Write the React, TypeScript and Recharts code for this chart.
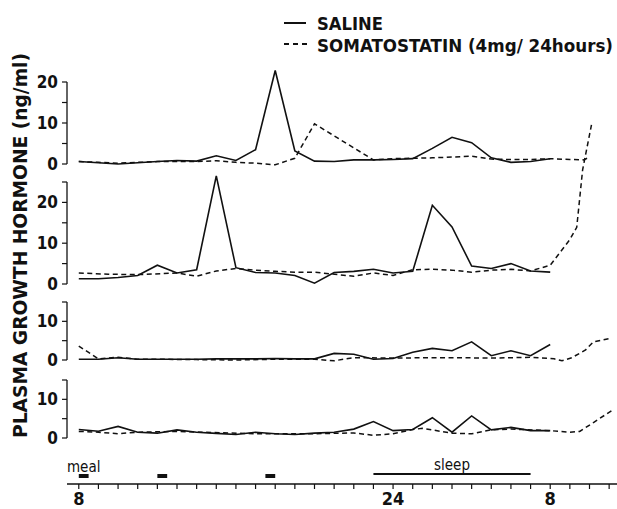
import { LineChart, Line, XAxis, YAxis, ReferenceLine } from "recharts";

// clock hours since midnight of day 1 (32 = 8 am next day)
const salineHours = [8, 9, 10, 11, 12, 13, 14, 15, 16, 17, 18, 19, 20, 21, 22, 23, 24, 25, 26, 27, 28, 29, 30, 31, 32];

// panel 1
const p1Saline = [0.6, 0.3, 0.0, 0.3, 0.6, 0.85, 0.7, 2.0, 0.85, 3.5, 22.8, 3.2, 0.7, 0.6, 1.0, 1.0, 1.1, 1.3, 3.8, 6.5, 5.2, 1.5, 0.4, 0.6, 1.3];
const p1SomaHours = [8, 9, 10, 11, 12, 13, 14, 15, 16, 17, 18, 19, 20, 23, 24, 25, 26, 27, 28, 29, 30, 31, 32, 33, 33.7, 34];
const p1Soma = [0.6, 0.4, 0.2, 0.4, 0.6, 0.6, 0.6, 0.8, 0.4, 0.2, -0.2, 1.4, 9.8, 1.0, 1.3, 1.4, 1.5, 1.7, 1.9, 1.2, 1.1, 1.1, 1.3, 1.1, 1.0, 1.7];

// panel 2
const p2Saline = [1.3, 1.3, 1.6, 2.1, 4.6, 2.7, 3.5, 26.5, 4.0, 2.8, 2.7, 2.1, 0.2, 2.8, 3.1, 3.6, 2.7, 3.1, 19.3, 14.0, 4.4, 3.8, 5.0, 3.2, 2.9];
const p2SomaHours = [8, 9.5, 11, 13, 14, 15, 16, 17, 18, 19, 20, 22, 23, 24, 25, 26, 27, 28, 29, 30, 31, 32, 33, 33.35, 33.65, 34.1];
const p2Soma = [2.7, 2.4, 2.3, 2.7, 1.9, 3.2, 3.8, 3.4, 3.1, 2.9, 2.9, 1.9, 2.7, 2.1, 3.5, 3.6, 3.4, 2.9, 3.4, 3.6, 3.2, 4.6, 10.9, 13.9, 28, 39];

// panel 3
const p3Saline = [0.2, 0.2, 0.6, 0.2, 0.2, 0.2, 0.2, 0.3, 0.3, 0.3, 0.4, 0.3, 0.3, 1.7, 1.5, 0.2, 0.4, 2.0, 3.0, 2.4, 4.7, 1.1, 2.4, 1.1, 4.0];
const p3SomaHours = [8, 9, 10, 11, 12, 14, 16, 18, 20, 21, 22, 24, 26, 27, 29, 31, 32.2, 32.6, 33.1, 33.8, 34.2, 35.1];
const p3Soma = [3.6, 0.3, 0.7, 0.2, 0.2, 0.1, 0.0, 0.2, 0.2, -0.2, 0.6, 0.5, 0.6, 0.6, 0.5, 0.7, 0.3, -0.2, 0.6, 2.6, 4.7, 5.6];

// panel 4
const p4Saline = [2.2, 1.75, 3.0, 1.5, 1.25, 2.1, 1.5, 1.2, 0.9, 1.5, 1.1, 0.9, 1.25, 1.5, 2.3, 4.25, 1.9, 2.2, 5.25, 1.5, 5.7, 2.1, 2.75, 1.9, 1.9];
const p4SomaHours = [8, 9, 10, 11, 13, 17, 20, 22, 23, 24, 25, 25.5, 27, 28, 29, 30, 32, 33, 33.5, 34.2, 35.2];
const p4Soma = [1.7, 1.5, 1.1, 1.5, 1.7, 1.1, 1.1, 1.3, 0.7, 1.1, 2.2, 2.5, 1.25, 1.1, 2.1, 2.3, 1.9, 1.5, 1.7, 4.0, 7.3];

const mealTimes = [[8, 8.5], [12, 12.5], [17.5, 18]];
const sleepTime = [23, 31];

const hourTicks = [8, 9, 10, 11, 12, 13, 14, 15, 16, 17, 18, 19, 20, 21, 22, 23, 24, 25, 26, 27, 28, 29, 30, 31, 32, 33, 34, 35];
const xLabelHours = [8, 24, 32];
const xLabelText = ["8", "24", "8"];

const INK = "#111";
const FONT = '"DejaVu Sans Condensed", "DejaVu Sans", sans-serif';
const X_DOMAIN: [number, number] = [7.4, 35.4];

const panels = [
  { top: 82, bottom: 164, max: 20, ticks: [0, 5, 10, 15, 20], labels: [0, 10, 20], saline: p1Saline, somaHours: p1SomaHours, soma: p1Soma },
  { top: 182, bottom: 284, max: 25, ticks: [0, 5, 10, 15, 20, 25], labels: [0, 10, 20], saline: p2Saline, somaHours: p2SomaHours, soma: p2Soma },
  { top: 302, bottom: 360, max: 15, ticks: [0, 5, 10, 15], labels: [0, 10], saline: p3Saline, somaHours: p3SomaHours, soma: p3Soma },
  { top: 380, bottom: 438, max: 15, ticks: [0, 5, 10, 15], labels: [0, 10], saline: p4Saline, somaHours: p4SomaHours, soma: p4Soma },
];

function Panel({ top, bottom, max, ticks, labels, saline, somaHours, soma }: any) {
  const salineRows = salineHours.map((h, i) => ({ h, v: saline[i] }));
  const somaRows = somaHours.map((h: number, i: number) => ({ h, v: soma[i] }));
  return (
    <div className="gh-panel" style={{ position: "absolute", left: 0, top: 0 }}>
      <LineChart width={617} height={bottom + 12} margin={{ top, right: 0, bottom: 12, left: 7 }}>
        <XAxis type="number" dataKey="h" domain={X_DOMAIN} allowDataOverflow hide />
        <YAxis
          type="number"
          domain={[0, max]}
          allowDataOverflow
          ticks={ticks}
          interval={0}
          width={60}
          tickSize={5}
          tickMargin={4}
          tickFormatter={(v) => (labels.includes(v) ? String(v) : "")}
          tick={{ fontSize: 17, fill: INK, fontFamily: FONT, fontWeight: "bold" }}
          axisLine={{ stroke: INK, strokeWidth: 1.3 }}
          tickLine={{ stroke: INK, strokeWidth: 1.2 }}
        />
        <Line
          data={somaRows}
          dataKey="v"
          type="linear"
          stroke={INK}
          strokeWidth={1.5}
          strokeDasharray="5 3.5"
          dot={false}
          isAnimationActive={false}
        />
        <Line
          data={salineRows}
          dataKey="v"
          type="linear"
          stroke={INK}
          strokeWidth={1.6}
          dot={false}
          isAnimationActive={false}
        />
      </LineChart>
    </div>
  );
}

export default function App() {
  const axisRows = hourTicks.map((h) => ({ h }));
  return (
    <div style={{ position: "absolute", left: 0, top: 0, width: 617, height: 509, background: "#fff" }}>
      <style>{`.gh-panel [clip-path]{clip-path:none !important;} .gh-panel svg{overflow:visible;}`}</style>
      {panels.map((p, i) => (
        <Panel key={i} {...p} />
      ))}

      {/* time axis with meals and sleep */}
      <div className="gh-panel" style={{ position: "absolute", left: 0, top: 450 }}>
        <LineChart width={617} height={59} data={axisRows} margin={{ top: 0, right: 0, bottom: 0, left: 67 }}>
          <XAxis
            type="number"
            dataKey="h"
            domain={X_DOMAIN}
            allowDataOverflow
            ticks={hourTicks}
            interval={0}
            height={25}
            tickSize={5}
            tickMargin={3}
            tickFormatter={(v) => {
              const k = xLabelHours.indexOf(v);
              return k >= 0 ? xLabelText[k] : "";
            }}
            tick={{ fontSize: 18, fill: INK, fontFamily: FONT, fontWeight: "bold" }}
            axisLine={{ stroke: INK, strokeWidth: 1.3 }}
            tickLine={{ stroke: INK, strokeWidth: 1.2 }}
          />
          <YAxis type="number" domain={[0, 34]} allowDataOverflow hide />
          {mealTimes.map(([a, b], i) => (
            <ReferenceLine
              key={i}
              segment={[{ x: a, y: 8 }, { x: b, y: 8 }]}
              ifOverflow="visible"
              stroke={INK}
              strokeWidth={4}
              label={i === 0 ? { value: "meal", position: "top", offset: 4, fill: INK, fontSize: 15, fontFamily: FONT } : undefined}
            />
          ))}
          <ReferenceLine
            segment={[{ x: sleepTime[0], y: 10 }, { x: sleepTime[1], y: 10 }]}
            ifOverflow="visible"
            stroke={INK}
            strokeWidth={2}
            label={{ value: "sleep", position: "top", offset: 4, fill: INK, fontSize: 15, fontFamily: FONT }}
          />
        </LineChart>
      </div>

      {/* legend and axis title */}
      <svg width={617} height={509} style={{ position: "absolute", left: 0, top: 0, pointerEvents: "none" }}>
        <text
          transform="translate(27 245.5) rotate(-90)"
          textAnchor="middle"
          fontFamily={FONT}
          fontWeight="bold"
          fontSize={20}
          fill={INK}
          textLength={385}
          lengthAdjust="spacingAndGlyphs"
        >
          PLASMA GROWTH HORMONE (ng/ml)
        </text>
        <line x1={284} x2={306} y1={23} y2={23} stroke={INK} strokeWidth={2} />
        <text x={317} y={30} fontFamily={FONT} fontWeight="bold" fontSize={18} fill={INK} textLength={66} lengthAdjust="spacingAndGlyphs">
          SALINE
        </text>
        <line x1={284} x2={308} y1={44} y2={44} stroke={INK} strokeWidth={2} strokeDasharray="5 4" />
        <text x={317} y={51.5} fontFamily={FONT} fontWeight="bold" fontSize={18} fill={INK} textLength={296} lengthAdjust="spacingAndGlyphs">
          SOMATOSTATIN (4mg/ 24hours)
        </text>
      </svg>
    </div>
  );
}
